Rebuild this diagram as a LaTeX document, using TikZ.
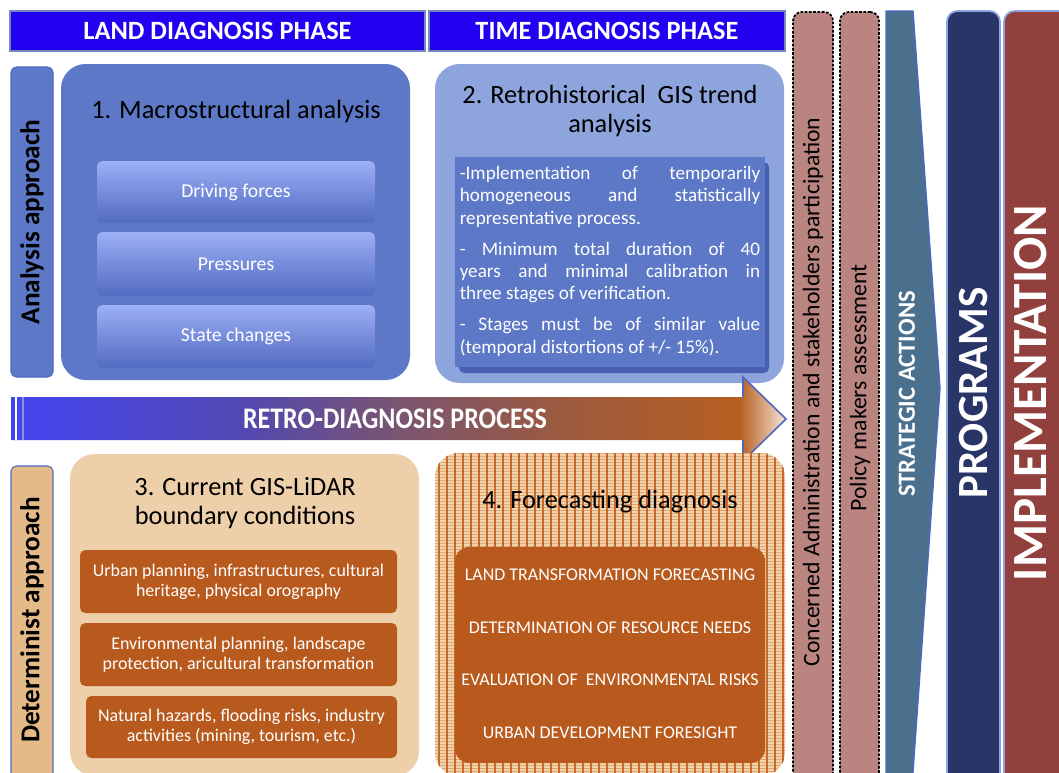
\documentclass[tikz,border=0pt]{standalone}
\usepackage{fontspec}
\setmainfont{Carlito}
\usepackage{graphicx}
\usetikzlibrary{fit,positioning}

\definecolor{phaseblue}{RGB}{34,0,240}
\definecolor{phaseedge}{RGB}{120,135,185}
\definecolor{macroblue}{RGB}{92,120,198}
\definecolor{retroblue}{RGB}{142,164,220}
\definecolor{shadeblue}{RGB}{72,96,178}
\definecolor{barlight}{RGB}{156,176,246}
\definecolor{bardark}{RGB}{82,106,192}
\definecolor{edgeblue}{RGB}{78,104,190}
\definecolor{sandpanel}{RGB}{237,207,169}
\definecolor{sandbar}{RGB}{227,186,136}
\definecolor{rust}{RGB}{184,90,30}
\definecolor{hatchbase}{RGB}{222,166,112}
\definecolor{hatchlight}{RGB}{242,212,176}
\definecolor{hatchdark}{RGB}{200,106,42}
\definecolor{rose}{RGB}{186,132,128}
\definecolor{steel}{RGB}{74,112,142}
\definecolor{navy}{RGB}{40,53,102}
\definecolor{wine}{RGB}{146,64,61}
\definecolor{paleedge}{RGB}{140,165,225}
\definecolor{arrA}{RGB}{68,68,242}
\definecolor{arrB}{RGB}{82,72,176}
\definecolor{arrC}{RGB}{122,85,112}
\definecolor{arrD}{RGB}{154,90,64}
\definecolor{arrE}{RGB}{182,95,34}
\definecolor{arrF}{RGB}{244,230,214}

% left to right colour run of the process arrow
\pgfdeclarehorizontalshading{retro}{100bp}{color(0bp)=(arrA); color(25bp)=(arrA);
  color(40bp)=(arrB); color(50bp)=(arrC); color(60bp)=(arrD); color(72bp)=(arrE);
  color(75bp)=(arrF); color(100bp)=(arrF)}

\begin{document}
\begin{tikzpicture}[x=0.02cm, y=-0.02cm,
  phase/.style={draw=phaseedge, line width=0.8pt, fill=phaseblue, inner sep=0pt},
  phasetext/.style={text=white, font=\fontsize{15}{17}\selectfont\bfseries},
  approach/.style={rounded corners=3pt, draw=edgeblue, line width=0.6pt, inner sep=0pt},
  sidetext/.style={rotate=90, font=\fontsize{15.5}{18}\selectfont\bfseries},
  panel/.style={rounded corners=14pt, inner sep=0pt},
  title/.style={align=center, font=\fontsize{15}{16.4}\selectfont},
  bluebar/.style={rounded corners=3pt, inner sep=0pt, top color=barlight, bottom color=bardark},
  bartext/.style={text=white, font=\fontsize{11.2}{13}\selectfont},
  brownbox/.style={rounded corners=3pt, inner sep=0pt, fill=rust},
  boxtext/.style={text=white, align=center, font=\fontsize{10.2}{11.2}\selectfont},
  itemtext/.style={text=white, font=\fontsize{10.2}{12}\selectfont},
  column/.style={rounded corners=5pt, fill=rose, draw=black, line width=1pt,
    dash pattern=on 1.5pt off 0.9pt, inner sep=0pt},
  columntext/.style={rotate=90, font=\fontsize{13.5}{16}\selectfont},
  bigbar/.style={rounded corners=6pt, draw=paleedge, line width=1pt, inner sep=0pt},
  bigtext/.style={rotate=90, text=white, inner sep=0pt}]

\clip (0,0) rectangle (1059,772);

% phase headers
\node[phase, fit={(10,11) (425,51)}] (land) {};
\node[phasetext] at (land.center) {LAND DIAGNOSIS PHASE};
\node[phase, fit={(429,11) (785,51)}] (time) {};
\node[phasetext] at (time.center) {TIME DIAGNOSIS PHASE};

% approach bars on the left
\node[approach, fill=macroblue, fit={(11,67) (53,377)}] (analysis) {};
\node[sidetext] at (analysis.center) {Analysis approach};
\node[approach, fill=sandbar, fit={(11,466) (53,800)}] (determ) {};
\node[sidetext] at (32,620) {Determinist approach};

% 1. macrostructural analysis
\node[panel, fill=macroblue, fit={(61,64) (410,380)}] (macro) {};
\node[title] at (236,111) {1. Macrostructural analysis};
\node[bluebar, fit={(97,161) (375,223)}] (forces) {};
\node[bartext] at (forces.center) {Driving forces};
\node[bluebar, fit={(97,232) (375,296)}] (pressures) {};
\node[bartext] at (pressures.center) {Pressures};
\node[bluebar, fit={(97,305) (375,368)}] (changes) {};
\node[bartext] at (changes.center) {State changes};

% 2. retrohistorical trend
\node[panel, fill=retroblue, fit={(435,64) (784,383)}] (retro) {};
\node[title] at (610,111) {2. Retrohistorical\ \ GIS trend\\analysis};
\node[fill=shadeblue, rounded corners=3pt, inner sep=0pt, fit={(459,162) (769,373)}] (trendshade) {};
\node[fill=macroblue, inner sep=0pt, fit={(455,157) (765,367)}] (trend) {};
\node[anchor=north, inner sep=0pt, text=white, text width=171pt, align=justify,
  font=\fontsize{10.9}{12.7}\selectfont] (rules) at (610,166) {\parindent=0pt\parskip=4.9pt
  -Implementation of temporarily\linebreak homogeneous and statistically\linebreak
  representative process.\par
  - Minimum total duration of 40\linebreak years and minimal calibration in\linebreak
  three stages of verification.\par
  - Stages must be of similar value\linebreak (temporal distortions of +/- 15\%).};

% process arrow
\path[shading=retro] (11,397) -- (743,397) -- (743,377) -- (786,419) -- (743,461)
  -- (743,440) -- (11,440) -- cycle;
\draw[edgeblue, line width=0.9pt] (743,397) -- (743,377) -- (786,419) -- (743,461) -- (743,440);
\draw[white, line width=1pt] (16,397) -- (16,440);
\draw[edgeblue!70, line width=1.2pt] (23,397) -- (23,440);
\node[text=white, font=\fontsize{17}{19}\selectfont\bfseries] (process) at (395,419)
  {\scalebox{0.87}[1]{RETRO-DIAGNOSIS PROCESS}};

% 3. boundary conditions
\node[panel, fill=sandpanel, fit={(70,454) (419,776)}] (lidar) {};
\node[title] at (245,503) {3. Current GIS-LiDAR\\boundary conditions};
\node[brownbox, fit={(80,550) (397,613)}] (urban) {};
\node[boxtext] at (urban.center) {Urban planning, infrastructures, cultural\\heritage, physical orography};
\node[brownbox, fit={(80,623) (397,686)}] (landscape) {};
\node[boxtext] at (landscape.center) {Environmental planning, landscape\\protection, aricultural transformation};
\node[brownbox, fit={(86,696) (397,758)}] (hazards) {};
\node[boxtext] at (hazards.center) {Natural hazards, flooding risks, industry\\activities (mining, tourism, etc.)};

% 4. forecasting
\node[panel, fill=hatchbase, fit={(435,453) (785,776)}] (forecast) {};
\begin{scope}
  \clip[rounded corners=14pt] (forecast.south west) rectangle (forecast.north east);
  \foreach \y in {455,458,...,776}
    \draw[hatchlight, line width=0.6pt] (435,\y) -- (785,\y);
  \foreach \x in {439,447,...,783}
    \draw[hatchdark, line width=0.75pt] (\x,453) -- (\x,776);
\end{scope}
\node[title] at (610,502) {4. Forecasting diagnosis};
\node[brownbox, rounded corners=8pt, fit={(455,547) (765,763)}] (needs) {};
\node[itemtext] (item1) at (610,575) {LAND TRANSFORMATION FORECASTING};
\node[itemtext] (item2) at (610,628) {DETERMINATION OF RESOURCE NEEDS};
\node[itemtext] (item3) at (610,680) {EVALUATION OF\ \ ENVIRONMENTAL RISKS};
\node[itemtext] (item4) at (610,733) {URBAN DEVELOPMENT FORESIGHT};

% participation and decision columns
\node[column, fit={(793,12) (833,800)}] (admin) {};
\node[columntext] at (813,392) {Concerned Administration and stakeholders participation};
\node[column, fit={(840,12) (879,800)}] (policy) {};
\node[columntext] at (860,388) {Policy makers assessment};

\path[fill=steel, draw=edgeblue, line width=0.8pt] (886,11) -- (913,11) -- (940,388)
  -- (913,772) -- (913,800) -- (886,800) -- cycle;
\node[bigtext, font=\fontsize{14}{16}\selectfont\bfseries] (strategic) at (907,394) {STRATEGIC ACTIONS};

\node[bigbar, fill=navy, fit={(947,11) (1000,800)}] (programs) {};
\node[bigtext, font=\fontsize{24.5}{28}\selectfont\bfseries] at (974,393) {PROGRAMS};
\node[bigbar, fill=wine, fit={(1004,11) (1090,800)}] (implement) {};
\node[bigtext, font=\fontsize{28}{31}\selectfont\bfseries] at (1031,393) {IMPLEMENTATION};
\end{tikzpicture}
\end{document}
